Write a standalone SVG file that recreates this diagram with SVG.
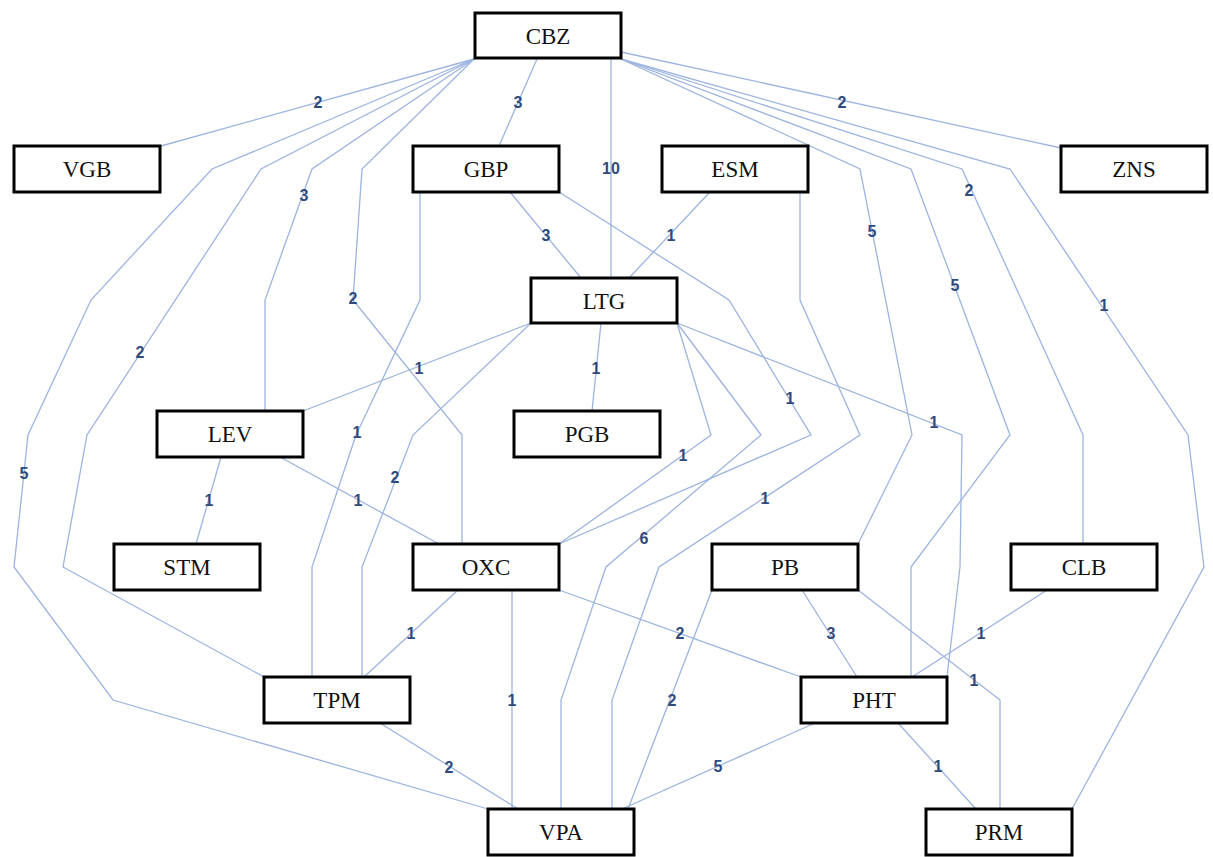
<svg xmlns="http://www.w3.org/2000/svg" width="1213" height="857" viewBox="0 0 1213 857">
  <style>
    .edge { fill: none; stroke: #9db4e0; stroke-width: 1.3; }
    .w { font-family: "Liberation Sans", Arial, sans-serif; font-weight: bold; font-size: 16px; fill: #2f4b7c; text-anchor: middle; }
    .box { fill: #ffffff; stroke: #000000; stroke-width: 3; }
    .name { font-family: "Liberation Serif", "Times New Roman", serif; font-size: 23px; fill: #111111; text-anchor: middle; }
  </style>
  <rect width="1213" height="857" fill="#ffffff"/>

  <!-- connectors -->
  <g id="edges">
    <polyline class="edge" points="474,59 161,146"/>
    <polyline class="edge" points="474,59 212,169 91,300 28,435 14,567 113,700 488,809"/>
    <polyline class="edge" points="474,59 261,169 87,435 63,567 264,677"/>
    <polyline class="edge" points="474,59 312,169 265,300 265,411"/>
    <polyline class="edge" points="474,59 362,169 353,300 462,435 462,544"/>
    <polyline class="edge" points="537,59 499,146"/>
    <polyline class="edge" points="611,59 611,278"/>
    <polyline class="edge" points="621,52 1061,148"/>
    <polyline class="edge" points="621,59 860,169 912,435 858,544"/>
    <polyline class="edge" points="621,59 911,169 1010,435 911,567 911,677"/>
    <polyline class="edge" points="621,59 962,169 1083,435 1083,544"/>
    <polyline class="edge" points="621,59 1010,169 1188,435 1204,567 1072,809"/>
    <polyline class="edge" points="510,192 581,278"/>
    <polyline class="edge" points="420,192 420,300 356,435 312,567 312,677"/>
    <polyline class="edge" points="559,192 729,300 811,435 559,544"/>
    <polyline class="edge" points="710,192 629,278"/>
    <polyline class="edge" points="800,192 800,300 860,435 659,567 612,700 612,809"/>
    <polyline class="edge" points="531,323 303,411"/>
    <polyline class="edge" points="601,323 592,411"/>
    <polyline class="edge" points="531,323 413,435 362,567 362,677"/>
    <polyline class="edge" points="677,323 711,435 559,544"/>
    <polyline class="edge" points="677,323 761,435 606,567 561,700 561,809"/>
    <polyline class="edge" points="677,323 962,435 960,567 947,677"/>
    <polyline class="edge" points="221,457 196,544"/>
    <polyline class="edge" points="280,457 439,544"/>
    <polyline class="edge" points="458,590 364,677"/>
    <polyline class="edge" points="512,590 512,809"/>
    <polyline class="edge" points="559,590 801,677"/>
    <polyline class="edge" points="380,723 518,809"/>
    <polyline class="edge" points="712,590 628,809"/>
    <polyline class="edge" points="802,590 857,677"/>
    <polyline class="edge" points="858,590 1000,700 1000,809"/>
    <polyline class="edge" points="1047,590 912,677"/>
    <polyline class="edge" points="815,723 622,809"/>
    <polyline class="edge" points="898,723 976,809"/>

    <!-- weights -->
    <text class="w" x="318" y="108">2</text>
    <text class="w" x="24" y="479">5</text>
    <text class="w" x="140" y="358">2</text>
    <text class="w" x="304" y="201">3</text>
    <text class="w" x="353" y="304">2</text>
    <text class="w" x="518" y="108">3</text>
    <text class="w" x="611" y="174">10</text>
    <text class="w" x="842" y="108">2</text>
    <text class="w" x="872" y="237">5</text>
    <text class="w" x="955" y="291">5</text>
    <text class="w" x="969" y="196">2</text>
    <text class="w" x="1104" y="311">1</text>
    <text class="w" x="546" y="241">3</text>
    <text class="w" x="357" y="438">1</text>
    <text class="w" x="790" y="404">1</text>
    <text class="w" x="671" y="241">1</text>
    <text class="w" x="765" y="504">1</text>
    <text class="w" x="419" y="374">1</text>
    <text class="w" x="596" y="374">1</text>
    <text class="w" x="395" y="483">2</text>
    <text class="w" x="683" y="461">1</text>
    <text class="w" x="644" y="544">6</text>
    <text class="w" x="934" y="428">1</text>
    <text class="w" x="209" y="506">1</text>
    <text class="w" x="358" y="506">1</text>
    <text class="w" x="411" y="639">1</text>
    <text class="w" x="512" y="706">1</text>
    <text class="w" x="680" y="639">2</text>
    <text class="w" x="449" y="773">2</text>
    <text class="w" x="672" y="706">2</text>
    <text class="w" x="831" y="639">3</text>
    <text class="w" x="974" y="686">1</text>
    <text class="w" x="981" y="639">1</text>
    <text class="w" x="718" y="772">5</text>
    <text class="w" x="938" y="772">1</text>
  </g>

  <!-- nodes -->
  <g id="CBZ"><rect class="box" x="475" y="13" width="146" height="45"/><text class="name" x="548" y="44">CBZ</text></g>
  <g id="VGB"><rect class="box" x="14" y="146" width="146" height="46"/><text class="name" x="87" y="177">VGB</text></g>
  <g id="GBP"><rect class="box" x="413" y="146" width="146" height="46"/><text class="name" x="486" y="177">GBP</text></g>
  <g id="ESM"><rect class="box" x="662" y="146" width="146" height="46"/><text class="name" x="735" y="177">ESM</text></g>
  <g id="ZNS"><rect class="box" x="1061" y="146" width="146" height="46"/><text class="name" x="1134" y="177">ZNS</text></g>
  <g id="LTG"><rect class="box" x="531" y="278" width="146" height="45"/><text class="name" x="604" y="309">LTG</text></g>
  <g id="LEV"><rect class="box" x="157" y="411" width="146" height="46"/><text class="name" x="230" y="442">LEV</text></g>
  <g id="PGB"><rect class="box" x="514" y="411" width="146" height="46"/><text class="name" x="587" y="442">PGB</text></g>
  <g id="STM"><rect class="box" x="114" y="544" width="146" height="46"/><text class="name" x="187" y="575">STM</text></g>
  <g id="OXC"><rect class="box" x="413" y="544" width="146" height="46"/><text class="name" x="486" y="575">OXC</text></g>
  <g id="PB"><rect class="box" x="712" y="544" width="146" height="46"/><text class="name" x="785" y="575">PB</text></g>
  <g id="CLB"><rect class="box" x="1011" y="544" width="146" height="46"/><text class="name" x="1084" y="575">CLB</text></g>
  <g id="TPM"><rect class="box" x="264" y="677" width="146" height="46"/><text class="name" x="337" y="708">TPM</text></g>
  <g id="PHT"><rect class="box" x="801" y="677" width="146" height="46"/><text class="name" x="874" y="708">PHT</text></g>
  <g id="VPA"><rect class="box" x="488" y="809" width="146" height="46"/><text class="name" x="561" y="840">VPA</text></g>
  <g id="PRM"><rect class="box" x="926" y="809" width="146" height="46"/><text class="name" x="999" y="840">PRM</text></g>
</svg>
